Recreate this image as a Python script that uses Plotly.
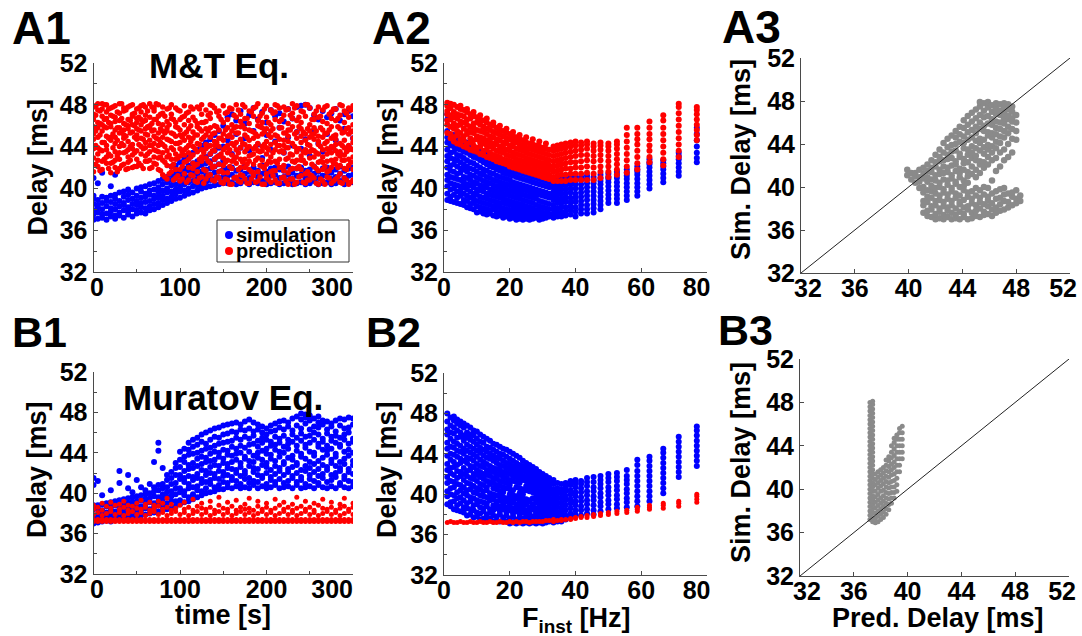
import plotly.graph_objects as go

# Delays are stored in tenths of a millisecond; time in s, frequency in Hz.

# ---- A1: M&T equation, delay vs time --------------------------------------
A1_SIM = [
    (0, [370, 375, 379, 385, 390, 393, 410]), (5, [371, 377, 382, 384, 389, 405]),
    (10, [372, 375, 380, 386, 392, 415]), (15, [370, 376, 383, 388, 391]),
    (20, [373, 378, 381, 387, 393, 402]), (25, [371, 374, 380, 385, 390, 394, 413]),
    (30, [374, 377, 383, 388, 396]), (35, [372, 379, 384, 386, 392, 397]),
    (40, [375, 378, 382, 389, 394, 399]), (45, [373, 380, 385, 390, 396]),
    (50, [376, 379, 384, 388, 393, 400]), (55, [377, 382, 386, 391, 397, 401]),
    (60, [376, 381, 387, 392, 395, 402]), (65, [379, 383, 388, 394, 398, 404]),
    (70, [380, 385, 390, 393, 399, 405]), (75, [382, 386, 391, 396, 401, 407]),
    (80, [384, 389, 393, 398, 404, 409]), (85, [386, 390, 396, 400, 406, 411]),
    (90, [388, 392, 397, 403, 408, 413, 421]), (95, [390, 395, 399, 404, 410, 415, 422]),
    (100, [391, 397, 401, 406, 412, 417, 425]), (105, [393, 398, 404, 409, 414, 419, 428]),
    (110, [395, 400, 406, 411, 417, 422, 431]), (115, [396, 402, 407, 413, 418, 424, 434]),
    (120, [398, 403, 409, 414, 420, 426, 437]), (125, [400, 405, 410, 416, 422, 428, 441]),
    (130, [401, 406, 412, 418, 424, 430, 444]), (135, [402, 408, 413, 419, 426, 433, 447]),
    (140, [403, 409, 415, 421, 428, 436, 451]), (145, [404, 410, 416, 423, 431, 439, 455]),
    (150, [405, 411, 418, 427, 440, 460]), (155, [405, 412, 419, 446, 468]),
    (160, [406, 413, 420, 433, 471]), (165, [404, 410, 417, 452, 465]),
    (170, [405, 411, 418, 439, 474]), (175, [407, 414, 421, 448, 462]),
    (180, [404, 410, 416, 436, 470]), (185, [406, 413, 420, 455, 477]),
    (190, [405, 411, 417, 442, 466]), (195, [407, 414, 422, 429, 473]),
    (200, [404, 409, 416, 451, 463]), (205, [405, 412, 419, 437, 475]),
    (210, [406, 413, 420, 445, 469]), (215, [404, 410, 418, 458, 472]),
    (220, [405, 411, 417, 434, 464]), (225, [407, 413, 421, 449, 476]),
    (230, [404, 409, 415, 441, 467]), (235, [405, 412, 419, 454, 478]),
    (240, [406, 413, 420, 438, 479]), (245, [404, 410, 417, 447, 480]),
    (250, [405, 411, 418, 431, 477]), (255, [407, 414, 421, 456, 470]),
    (260, [404, 410, 416, 443, 466]), (265, [405, 412, 419, 435, 474]),
    (270, [406, 413, 420, 452, 468]), (275, [404, 409, 415, 439, 472]),
    (280, [405, 411, 418, 446, 476]), (285, [407, 414, 421, 433, 465]),
    (290, [404, 410, 417, 457, 471]), (295, [405, 412, 419, 440, 474]),
    (300, [406, 413, 420, 448, 469]),
]
A1_PRED = [
    (0, [416, 429, 438, 447, 452, 466, 471, 478, 459]), (2.5, [423, 441, 455, 470, 479]),
    (5, [421, 433, 439, 449, 458, 463, 475, 481, 427]), (7.5, [417, 437, 451, 462, 474]),
    (10, [418, 426, 436, 444, 455, 461, 469, 476, 481]), (12.5, [428, 444, 459, 466, 480]),
    (15, [424, 430, 437, 441, 450, 467, 473, 480, 458]), (17.5, [419, 433, 448, 463, 476]),
    (20, [415, 431, 446, 449, 459, 462, 470, 477, 424]), (22.5, [425, 439, 452, 469, 478]),
    (25, [420, 427, 435, 443, 456, 464, 468, 479, 449]), (27.5, [416, 431, 446, 458, 473]),
    (30, [419, 428, 440, 453, 458, 465, 472, 481, 434]), (32.5, [422, 443, 454, 467, 481]),
    (35, [423, 434, 441, 448, 451, 462, 474, 477, 456]), (37.5, [418, 435, 450, 461, 475]),
    (40, [425, 430, 437, 445, 457, 460, 466, 478, 419]), (42.5, [427, 440, 453, 465, 479]),
    (45, [420, 432, 438, 442, 454, 469, 471, 480, 461]), (47.5, [421, 434, 449, 460, 472]),
    (50, [428, 436, 447, 451, 457, 463, 467, 476, 421]), (52.5, [424, 442, 456, 468, 477]),
    (55, [422, 433, 440, 448, 455, 461, 473, 479, 466]), (57.5, [419, 438, 447, 464, 480]),
    (60, [426, 431, 439, 444, 452, 465, 470, 478, 457]), (62.5, [426, 433, 451, 459, 474]),
    (65, [419, 427, 435, 446, 458, 460, 468, 481, 441]), (67.5, [420, 441, 455, 462, 478]),
    (70, [424, 437, 443, 450, 456, 466, 474, 477, 430]), (72.5, [423, 436, 448, 466, 481]),
    (75, [418, 429, 435, 441, 453, 462, 469, 480, 447]), (77.5, [417, 430, 444, 457, 471]),
    (80, [413, 427, 434, 442, 449, 461, 472, 478, 455]), (82.5, [411, 425, 440, 453, 469]),
    (85, [409, 422, 436, 447, 455, 458, 464, 476, 430]), (87.5, [414, 432, 446, 461, 477]),
    (90, [416, 421, 428, 439, 445, 453, 467, 471, 480]), (92.5, [408, 423, 437, 452, 466]),
    (95, [410, 428, 433, 443, 450, 459, 463, 477, 418]), (97.5, [412, 429, 443, 458, 475]),
    (100, [407, 418, 431, 438, 444, 456, 466, 474, 451]), (102.5, [409, 421, 435, 449, 468]),
    (105, [414, 425, 437, 446, 452, 461, 469, 479, 432]), (107.5, [406, 426, 439, 454, 472]),
    (110, [408, 420, 428, 434, 441, 457, 465, 473, 449]), (112.5, [413, 430, 445, 460, 478]),
    (115, [412, 419, 432, 440, 448, 454, 468, 476, 424]), (117.5, [407, 422, 438, 451, 465]),
    (120, [406, 423, 435, 443, 451, 459, 462, 478, 416]), (122.5, [410, 428, 442, 457, 476]),
    (125, [411, 426, 430, 437, 447, 455, 471, 480, 463]), (127.5, [405, 418, 434, 449, 463]),
    (130, [409, 417, 429, 438, 442, 451, 464, 475, 457]), (132.5, [412, 426, 440, 455, 470]),
    (135, [413, 424, 433, 449, 458, 467, 472, 480, 441]), (137.5, [408, 420, 436, 452, 479]),
    (140, [407, 421, 436, 441, 445, 453, 460, 477, 428]), (142.5, [411, 430, 444, 459, 473]),
    (145, [410, 416, 431, 440, 448, 456, 469, 474, 423]), (147.5, [406, 417, 433, 448, 466]),
    (150, [405, 422, 429, 437, 446, 452, 463, 479, 415]), (152.5, [409, 425, 439, 456, 472]),
    (155, [408, 415, 427, 434, 441, 458, 466, 473, 450]), (157.5, [404, 421, 437, 451, 477]),
    (160, [404, 419, 432, 443, 449, 455, 461, 476, 426]), (162.5, [410, 428, 441, 458, 470]),
    (165, [411, 424, 430, 437, 444, 453, 468, 480, 459]), (167.5, [407, 418, 434, 453, 475]),
    (170, [406, 413, 428, 439, 447, 459, 464, 471, 420]), (172.5, [412, 425, 443, 460, 480]),
    (175, [409, 420, 435, 442, 451, 457, 467, 478, 428]), (177.5, [405, 423, 438, 449, 467]),
    (180, [405, 418, 426, 431, 446, 456, 462, 474, 440]), (182.5, [409, 416, 432, 455, 473]),
    (185, [412, 423, 433, 438, 448, 454, 469, 477, 415]), (187.5, [406, 427, 440, 452, 478]),
    (190, [407, 416, 429, 443, 450, 460, 465, 481, 436]), (192.5, [411, 422, 435, 459, 469]),
    (195, [404, 421, 427, 436, 440, 452, 463, 472, 458]), (197.5, [404, 419, 442, 454, 476]),
    (200, [410, 414, 433, 439, 445, 457, 468, 479, 423]), (202.5, [408, 426, 437, 451, 463]),
    (205, [406, 425, 430, 442, 449, 455, 461, 475, 416]), (207.5, [412, 417, 434, 457, 472]),
    (210, [408, 417, 437, 444, 451, 466, 473, 480, 426]), (212.5, [405, 424, 441, 450, 479]),
    (215, [405, 420, 428, 435, 447, 458, 464, 477, 441]), (217.5, [410, 420, 436, 458, 466]),
    (220, [411, 422, 434, 441, 446, 453, 470, 478, 417]), (222.5, [407, 428, 439, 453, 475]),
    (225, [404, 415, 429, 439, 450, 456, 462, 476, 445]), (227.5, [409, 418, 433, 456, 470]),
    (230, [409, 426, 432, 443, 459, 467, 472, 481, 419]), (232.5, [404, 425, 440, 452, 477]),
    (235, [406, 419, 435, 438, 448, 454, 465, 479, 427]), (237.5, [411, 421, 438, 459, 468]),
    (240, [412, 418, 427, 431, 444, 457, 463, 474, 450]), (242.5, [406, 427, 435, 454, 473]),
    (245, [405, 424, 434, 437, 446, 452, 469, 480, 414]), (247.5, [408, 416, 442, 457, 480]),
    (250, [408, 413, 429, 441, 449, 455, 461, 477, 435]), (252.5, [412, 423, 437, 451, 466]),
    (255, [410, 421, 430, 436, 447, 458, 466, 471, 452]), (257.5, [405, 419, 434, 455, 474]),
    (260, [404, 417, 433, 442, 445, 450, 468, 478, 425]), (262.5, [409, 426, 440, 458, 469]),
    (265, [407, 425, 430, 437, 449, 456, 464, 475, 418]), (267.5, [404, 421, 443, 452, 478]),
    (270, [411, 416, 426, 438, 445, 453, 462, 479, 433]), (272.5, [410, 417, 436, 456, 471]),
    (275, [405, 420, 434, 440, 448, 459, 467, 473, 427]), (277.5, [407, 424, 439, 450, 476]),
    (280, [409, 423, 428, 436, 447, 451, 465, 476, 442]), (282.5, [411, 420, 433, 459, 467]),
    (285, [406, 414, 431, 435, 443, 457, 470, 480, 422]), (287.5, [405, 427, 441, 453, 479]),
    (290, [410, 419, 432, 439, 446, 454, 463, 474, 427]), (292.5, [408, 418, 435, 457, 472]),
    (295, [404, 422, 428, 437, 441, 452, 468, 477, 458]), (297.5, [406, 425, 438, 454, 475]),
    (300, [408, 418, 430, 444, 448, 455, 461, 479, 437]),
]

# ---- A2: M&T equation, delay vs instantaneous frequency -------------------
A2_SIM = [
    (1, [389, 395, 402, 408, 413, 420, 426, 431, 437, 444, 449, 455, 466, 471]),
    (2, [388, 392, 399, 405, 411, 417, 422, 429, 434, 441, 446, 451]),
    (3, [387, 394, 400, 404, 410, 416, 423, 428, 435, 440, 446, 451]),
    (4, [386, 391, 397, 403, 409, 414, 421, 427, 432, 438, 443, 448]),
    (5, [385, 393, 398, 402, 408, 415, 419, 425, 431, 437, 442, 447]),
    (6, [384, 389, 395, 401, 406, 411, 418, 423, 429, 435, 440, 445]),
    (7, [382, 388, 393, 399, 404, 410, 416, 421, 427, 434, 439, 444]),
    (8, [381, 385, 391, 397, 403, 408, 413, 419, 425, 432, 437, 442]),
    (9, [380, 386, 390, 395, 401, 406, 412, 418, 424, 430, 435, 440]),
    (10, [377, 383, 388, 394, 399, 405, 410, 416, 422, 429, 434, 438]),
    (11, [378, 382, 387, 392, 398, 403, 409, 414, 420, 427, 432, 437]),
    (12, [376, 381, 386, 391, 397, 402, 407, 413, 418, 425, 430, 435]),
    (13, [375, 380, 385, 390, 395, 401, 406, 411, 417, 423, 428, 433]),
    (14, [376, 379, 384, 389, 394, 399, 405, 410, 415, 421, 426, 431]),
    (15, [374, 380, 383, 388, 393, 398, 403, 408, 414, 420, 425, 430]),
    (16, [373, 378, 383, 387, 392, 397, 402, 407, 412, 418, 423, 428]),
    (17, [374, 377, 382, 386, 391, 396, 401, 406, 411, 417, 422, 427]),
    (18, [372, 376, 381, 386, 390, 395, 400, 405, 410, 415, 420, 425]),
    (19, [373, 375, 380, 385, 389, 394, 399, 404, 409, 414, 419, 424]),
    (20, [371, 376, 379, 384, 388, 393, 398, 403, 408, 413, 418, 423]),
    (21, [372, 374, 378, 383, 387, 392, 397, 402, 406, 412, 417, 422]),
    (22, [370, 375, 377, 382, 386, 391, 396, 401, 405, 411, 416, 421]),
    (23, [371, 373, 378, 381, 385, 390, 395, 400, 404, 410, 415, 420]),
    (24, [370, 374, 376, 380, 384, 389, 394, 399, 403, 409, 414, 419]),
    (25, [371, 372, 377, 379, 383, 388, 393, 398, 402, 408, 413, 418]),
    (26, [370, 375, 378, 382, 387, 392, 397, 401, 407, 412, 417]),
    (27, [371, 373, 376, 381, 386, 391, 396, 400, 406, 411, 416]),
    (28, [372, 374, 379, 384, 390, 395, 399, 405, 410, 415]),
    (29, [370, 375, 378, 383, 388, 394, 398, 404, 409, 414]),
    (30, [371, 373, 377, 382, 387, 393, 397, 403, 408, 413]),
    (31, [372, 376, 381, 386, 392, 396, 402, 407, 412]),
    (32, [373, 375, 380, 385, 391, 395, 401, 406, 411]),
    (33.3, [372, 376, 380, 384, 389, 393, 397, 401, 405, 409]),
    (34.5, [373, 377, 381, 386, 390, 394, 398, 402, 406, 410]),
    (35.7, [373, 377, 382, 386, 390, 395, 399, 403, 406, 410]),
    (37.0, [374, 378, 382, 387, 391, 395, 399, 403, 407, 410]),
    (38.5, [375, 379, 383, 387, 391, 396, 400, 404, 407, 411]),
    (40.0, [373, 378, 382, 387, 391, 395, 400, 404, 408, 411]),
    (41.7, [376, 380, 384, 388, 392, 396, 400, 404, 408, 411]),
    (43.5, [376, 380, 384, 389, 393, 397, 401, 405, 409, 412]),
    (45.5, [377, 381, 385, 389, 393, 397, 401, 405, 408, 411]),
    (47.6, [380, 384, 388, 392, 396, 400, 404, 407, 410, 413]),
    (50.0, [386, 390, 394, 398, 402, 406, 409, 411, 414]),
    (52.6, [386, 390, 394, 398, 402, 406, 410, 413, 416]),
    (55.6, [389, 393, 397, 401, 405, 409, 412, 415, 418]),
    (58.8, [393, 397, 401, 405, 409, 413, 416, 418, 421]),
    (62.5, [400, 404, 408, 412, 416, 420, 423, 425, 428]),
    (66.7, [406, 410, 414, 418, 421, 424, 427]),
    (71.4, [412, 416, 420, 424, 428, 431, 434]),
    (76.9, [425, 429, 434, 440, 446, 452, 458]),
]
A2_PRED = [
    (1, [453, 461, 465, 471, 474, 479, 482]), (2, [448, 452, 459, 466, 470, 477, 481]),
    (3, [445, 449, 457, 462, 468, 473, 480]), (4, [443, 451, 455, 460, 467, 471, 478]),
    (5, [442, 447, 453, 461, 464, 470, 476, 479]), (6, [440, 446, 450, 457, 463, 469, 475]),
    (7, [439, 443, 452, 455, 461, 466, 473, 476]), (8, [437, 444, 448, 454, 459, 467, 471]),
    (9, [436, 441, 446, 453, 458, 462, 469, 473]), (10, [435, 439, 447, 450, 456, 463, 468]),
    (11, [433, 440, 444, 449, 455, 461, 466, 470]), (12, [432, 436, 443, 448, 454, 459, 465]),
    (13, [430, 437, 441, 446, 452, 457, 463, 467]), (14, [429, 434, 440, 445, 450, 456, 461]),
    (15, [428, 432, 438, 443, 449, 454, 460, 463]), (16, [426, 431, 436, 442, 447, 453, 458]),
    (17, [425, 430, 435, 440, 446, 451, 456, 460]), (18, [424, 428, 434, 439, 444, 450, 455]),
    (19, [423, 427, 432, 437, 443, 448, 453, 457]), (20, [421, 426, 431, 436, 441, 447, 452]),
    (21, [420, 425, 430, 434, 440, 445, 450, 454]), (22, [419, 423, 428, 433, 438, 444, 449]),
    (23, [418, 422, 427, 432, 437, 442, 447, 451]), (24, [417, 421, 426, 431, 436, 441, 446]),
    (25, [416, 420, 425, 429, 434, 439, 444, 449]), (26, [415, 419, 424, 428, 433, 438, 443]),
    (27, [414, 418, 423, 427, 432, 437, 442, 447]), (28, [413, 417, 422, 426, 431, 436, 441]),
    (29, [412, 416, 421, 425, 430, 435, 440, 445]), (30, [411, 415, 420, 424, 429, 434, 439]),
    (31, [410, 414, 419, 423, 428, 433, 438, 443]), (32, [409, 413, 418, 422, 427, 432, 437]),
    (33.3, [407, 411, 416, 421, 426, 431, 436, 440]),
    (34.5, [407, 412, 417, 422, 427, 432, 437, 441]),
    (35.7, [407, 413, 418, 423, 428, 433, 438, 442]),
    (37.0, [407, 413, 419, 424, 429, 434, 439, 443]),
    (38.5, [408, 414, 419, 425, 430, 435, 440, 444]),
    (40.0, [408, 414, 420, 425, 431, 436, 441, 445]),
    (41.7, [408, 414, 420, 426, 432, 437, 441, 444]),
    (43.5, [408, 415, 421, 427, 432, 438, 442, 445]),
    (45.5, [408, 414, 420, 426, 431, 436, 440, 443]),
    (47.6, [410, 416, 421, 427, 432, 437, 441, 444]),
    (50.0, [411, 416, 421, 426, 431, 436, 440, 443]),
    (52.6, [413, 418, 423, 428, 433, 438, 442, 445]),
    (55.6, [415, 421, 427, 433, 439, 445, 451, 458]),
    (58.8, [418, 424, 430, 436, 442, 447, 452, 458]),
    (62.5, [425, 430, 436, 441, 447, 452, 458, 464]),
    (66.7, [422, 428, 434, 440, 446, 452, 458, 465, 470]),
    (71.4, [430, 436, 442, 448, 454, 460, 466, 472, 478, 481]),
    (76.9, [446, 451, 456, 461, 466, 471, 475, 478]),
]

# ---- A3: simulated vs predicted delay (M&T); x = predicted, y = simulated --
A3_CLOUD = [
    (399, [411, 416]), (402, [407, 413]), (405, [404, 410, 413]), (408, [399, 405, 409, 416]),
    (411, [376, 383, 387, 395, 400, 408, 412, 418]),
    (414, [373, 378, 386, 391, 397, 405, 409, 415, 421]),
    (417, [372, 379, 382, 390, 396, 401, 407, 414, 418, 425]),
    (420, [370, 375, 383, 387, 394, 399, 406, 411, 419, 423, 430]),
    (423, [371, 377, 380, 388, 392, 400, 404, 412, 416, 424, 428, 435]),
    (426, [370, 374, 382, 386, 395, 398, 407, 413, 419, 425, 432, 441]),
    (429, [372, 378, 381, 389, 393, 402, 406, 414, 418, 426, 430, 437, 445]),
    (432, [370, 376, 383, 387, 396, 399, 408, 411, 420, 427, 433, 439, 448]),
    (435, [371, 374, 380, 390, 394, 403, 405, 415, 421, 424, 434, 440, 446, 452]),
    (438, [370, 377, 384, 386, 392, 400, 409, 413, 417, 428, 431, 442, 449, 456]),
    (441, [372, 375, 381, 388, 397, 401, 406, 416, 422, 426, 436, 441, 447, 455, 462]),
    (444, [370, 379, 382, 391, 395, 404, 410, 414, 423, 430, 435, 444, 451, 458, 466]),
    (447, [371, 376, 385, 389, 396, 412, 419, 427, 432, 438, 446, 453, 461, 469]),
    (450, [373, 378, 383, 392, 399, 409, 416, 425, 429, 436, 443, 450, 456, 464, 472]),
    (453, [372, 380, 386, 390, 397, 413, 421, 424, 434, 441, 445, 454, 460, 467, 475, 479]),
    (456, [374, 377, 384, 393, 400, 418, 423, 431, 437, 444, 452, 457, 465, 471, 478]),
    (459, [375, 382, 388, 391, 399, 421, 428, 435, 439, 448, 451, 459, 466, 474, 479]),
    (462, [373, 379, 385, 394, 406, 425, 432, 438, 446, 450, 458, 463, 470, 476]),
    (465, [376, 381, 389, 396, 415, 427, 436, 442, 449, 455, 461, 468, 473, 478]),
    (468, [378, 384, 390, 398, 419, 432, 441, 447, 454, 460, 467, 471, 477]),
    (471, [379, 387, 393, 399, 425, 435, 446, 452, 459, 464, 469, 474, 478]),
    (474, [381, 386, 394, 428, 440, 450, 456, 463, 466, 472, 477]),
    (477, [383, 391, 395, 432, 445, 454, 461, 464, 470, 475]),
    (480, [385, 389, 397, 444, 452, 460, 467]),
    (483, [387, 392]),
]

# ---- B1: Muratov equation, delay vs time -----------------------------------
B1_SIM = [
    (0, [370, 375, 378, 384, 388, 408, 415]), (5, [371, 374, 379, 385, 388, 412]),
    (10, [372, 377, 380, 383, 389, 398]), (15, [373, 376, 381, 387, 390]),
    (20, [372, 378, 383, 386, 391, 403]), (25, [374, 377, 382, 388, 392]),
    (30, [375, 379, 385, 387, 393, 410, 422]), (35, [374, 380, 383, 389, 394]),
    (40, [376, 381, 386, 390, 395, 405, 418]), (45, [377, 380, 385, 391, 396, 401]),
    (50, [376, 382, 388, 392, 397, 413]), (55, [378, 383, 387, 393, 398, 406]),
    (60, [379, 385, 389, 394, 399, 403]), (65, [380, 384, 391, 395, 400, 409]),
    (70, [381, 386, 390, 397, 402, 406, 431]), (75, [382, 388, 392, 396, 403, 408, 442, 450]),
    (80, [383, 387, 394, 399, 405, 409, 425]), (85, [384, 390, 396, 401, 406, 413, 418]),
    (90, [385, 392, 397, 402, 409, 415, 421]), (95, [387, 392, 399, 405, 410, 418, 425, 430]),
    (100, [389, 393, 401, 405, 414, 418, 426, 433, 441]),
    (105, [391, 398, 402, 411, 415, 422, 431, 436, 444]),
    (110, [392, 396, 405, 409, 417, 424, 428, 438, 443, 450]),
    (115, [394, 399, 406, 413, 416, 425, 430, 439, 446, 453]),
    (120, [396, 403, 407, 415, 419, 427, 434, 440, 448, 455]),
    (125, [398, 402, 410, 414, 423, 429, 436, 442, 451, 458]),
    (130, [400, 405, 411, 418, 422, 431, 435, 444, 449, 460]),
    (135, [401, 409, 413, 420, 426, 432, 439, 445, 453, 462]),
    (140, [402, 406, 415, 419, 428, 433, 441, 447, 456, 464]),
    (145, [404, 408, 414, 422, 427, 436, 440, 449, 455, 465]),
    (150, [404, 411, 417, 421, 430, 434, 443, 450, 458, 467]),
    (155, [406, 410, 418, 425, 429, 438, 442, 451, 459, 468]),
    (160, [405, 413, 416, 424, 431, 437, 446, 452, 461, 469]),
    (165, [407, 412, 420, 423, 433, 439, 444, 455, 460, 470]),
    (170, [405, 409, 417, 426, 430, 440, 447, 453, 463, 468]),
    (175, [406, 414, 419, 422, 434, 436, 445, 456, 462, 471]),
    (180, [405, 410, 415, 427, 432, 441, 448, 454, 464, 473]),
    (185, [408, 412, 421, 425, 431, 437, 449, 457, 461, 470]),
    (190, [405, 411, 418, 424, 435, 440, 446, 452, 463, 468]),
    (195, [407, 415, 417, 428, 433, 442, 450, 455, 460, 466]),
    (200, [405, 409, 420, 426, 430, 439, 444, 453, 458, 464]),
    (205, [406, 413, 416, 423, 434, 438, 447, 451, 461, 467]),
    (210, [408, 411, 419, 427, 432, 443, 448, 456, 462, 469]),
    (215, [405, 414, 422, 425, 436, 441, 450, 454, 465, 471]),
    (220, [406, 410, 418, 429, 431, 440, 446, 457, 463, 472]),
    (225, [407, 412, 421, 424, 435, 444, 449, 453, 466, 470]),
    (230, [405, 415, 417, 426, 433, 437, 451, 458, 462, 474]),
    (235, [408, 411, 420, 428, 430, 442, 447, 455, 467, 476]),
    (240, [405, 413, 416, 423, 436, 439, 452, 459, 464, 473, 479]),
    (245, [406, 409, 422, 427, 434, 445, 448, 456, 469, 475, 478]),
    (250, [407, 414, 418, 425, 431, 441, 450, 457, 463, 472, 477]),
    (255, [405, 412, 421, 429, 437, 440, 453, 460, 466, 474]),
    (260, [408, 410, 417, 424, 432, 446, 449, 458, 465, 470, 476]),
    (265, [406, 415, 419, 428, 435, 443, 451, 454, 468, 472]),
    (270, [405, 411, 423, 426, 438, 442, 447, 459, 463, 471]),
    (275, [407, 413, 418, 430, 433, 444, 452, 456, 466, 469]),
    (280, [405, 416, 420, 427, 436, 439, 450, 457, 461, 472]),
    (285, [408, 410, 422, 425, 431, 446, 448, 455, 467, 474]),
    (290, [406, 414, 417, 429, 434, 441, 453, 458, 464, 473]),
    (295, [405, 412, 421, 424, 437, 443, 449, 460, 465, 475]),
    (300, [407, 411, 419, 428, 432, 440, 451, 454, 468, 474]),
]
B1_PRED = [
    (0, [372, 374, 379, 384, 388]), (5, [372, 374, 381, 386]), (10, [372, 374, 378, 383, 390]),
    (15, [372, 374, 380, 387]), (20, [372, 374, 382, 385, 391]), (25, [372, 374, 379, 388]),
    (30, [372, 374, 381, 384, 389]), (35, [372, 374, 378, 386, 392]), (40, [372, 374, 380, 383, 388]),
    (45, [372, 374, 382, 387]), (50, [372, 374, 379, 385, 390]), (55, [372, 374, 381, 384, 393]),
    (60, [372, 374, 378, 386, 389]), (65, [372, 374, 380, 383, 391]), (70, [372, 374, 382, 385, 388]),
    (75, [372, 374, 379, 387, 392]), (80, [372, 374, 381, 384, 390]), (85, [372, 374, 378, 386, 395]),
    (90, [372, 374, 380, 383, 389]), (95, [372, 374, 382, 385]), (100, [372, 374, 379, 388]),
    (105, [372, 374, 381, 384, 391]), (110, [372, 374, 378, 386]), (115, [372, 374, 380, 383, 394]),
    (120, [372, 374, 382, 387]), (125, [372, 374, 379, 385, 390]), (130, [372, 374, 381, 384]),
    (135, [372, 374, 378, 386, 392]), (140, [372, 374, 380, 383]), (145, [372, 374, 382, 388, 396]),
    (150, [372, 374, 379, 385]), (155, [372, 374, 381, 384, 391]), (160, [372, 374, 378, 387]),
    (165, [372, 374, 380, 383, 393]), (170, [372, 374, 382, 386]), (175, [372, 374, 379, 384, 389]),
    (180, [372, 374, 381, 385, 395]), (185, [372, 374, 378, 383]), (190, [372, 374, 380, 387, 392]),
    (195, [372, 374, 382, 384]), (200, [372, 374, 379, 386, 390]), (205, [372, 374, 381, 383]),
    (210, [372, 374, 378, 385, 394]), (215, [372, 374, 380, 388]), (220, [372, 374, 382, 384, 391]),
    (225, [372, 374, 379, 386]), (230, [372, 374, 381, 383, 389]), (235, [372, 374, 378, 385, 396]),
    (240, [372, 374, 380, 387]), (245, [372, 374, 382, 384, 392]), (250, [372, 374, 379, 386]),
    (255, [372, 374, 381, 383, 390]), (260, [372, 374, 378, 388]), (265, [372, 374, 380, 385, 394]),
    (270, [372, 374, 382, 384]), (275, [372, 374, 379, 386, 391]), (280, [372, 374, 381, 383]),
    (285, [372, 374, 378, 385, 389]), (290, [372, 374, 380, 387, 395]), (295, [372, 374, 382, 384]),
    (300, [372, 374, 379, 386, 390]),
]

# ---- B2: Muratov equation, delay vs instantaneous frequency ---------------
B2_SIM = [
    (1, [390, 398, 403, 411, 417, 424, 430, 438, 445, 451, 459, 464, 472, 480]),
    (2, [388, 392, 400, 406, 413, 421, 426, 434, 440, 447, 455, 461, 468, 476]),
    (3, [385, 393, 399, 407, 412, 419, 427, 432, 439, 446, 452, 460, 466, 473, 477]),
    (4, [384, 389, 396, 402, 410, 416, 423, 429, 437, 443, 450, 456, 463, 470, 474]),
    (5, [383, 391, 397, 404, 409, 418, 422, 431, 435, 442, 448, 457, 461, 468, 472]),
    (6, [382, 387, 394, 401, 407, 414, 420, 426, 433, 440, 445, 453, 458, 466, 470]),
    (7, [379, 386, 391, 399, 404, 411, 418, 423, 431, 436, 443, 449, 456, 461, 468]),
    (8, [380, 385, 393, 397, 405, 410, 416, 424, 428, 435, 441, 447, 454, 459, 466]),
    (9, [377, 384, 389, 396, 402, 408, 415, 420, 427, 433, 439, 445, 452, 458, 463]),
    (10, [378, 382, 390, 394, 401, 406, 413, 419, 424, 430, 437, 443, 449, 455, 462]),
    (11, [375, 381, 387, 393, 399, 405, 410, 417, 422, 428, 434, 441, 446, 452, 459]),
    (12, [376, 383, 386, 392, 398, 403, 409, 415, 420, 427, 432, 438, 444, 451, 457]),
    (13, [375, 380, 388, 391, 397, 404, 407, 413, 419, 424, 430, 436, 442, 447, 455]),
    (14, [376, 382, 385, 394, 396, 401, 410, 412, 418, 423, 428, 435, 440, 446, 453]),
    (15, [373, 379, 384, 389, 395, 400, 406, 411, 416, 422, 426, 433, 438, 444, 450]),
    (16, [374, 378, 386, 390, 393, 399, 405, 409, 415, 420, 425, 431, 436, 442, 449]),
    (17, [373, 380, 383, 388, 394, 398, 403, 408, 413, 419, 424, 429, 435, 440, 447]),
    (18, [374, 377, 385, 390, 392, 397, 402, 407, 412, 417, 422, 428, 433, 439, 445]),
    (19, [373, 379, 382, 387, 393, 396, 406, 411, 416, 421, 426, 431, 437, 444]),
    (20, [371, 376, 384, 389, 391, 395, 400, 405, 409, 414, 420, 425, 430, 435, 442]),
    (21, [372, 378, 381, 386, 392, 394, 399, 404, 413, 418, 423, 428, 433, 440]),
    (22, [371, 375, 383, 387, 390, 396, 398, 407, 412, 417, 421, 426, 431, 438]),
    (23, [372, 377, 380, 385, 389, 393, 397, 401, 406, 411, 415, 420, 425, 429, 436]),
    (24, [371, 376, 382, 386, 388, 392, 396, 400, 405, 414, 418, 423, 428, 433]),
    (25, [372, 375, 379, 384, 390, 391, 395, 404, 408, 413, 417, 422, 426, 431]),
    (26, [371, 377, 381, 383, 387, 393, 394, 403, 407, 411, 416, 420, 425, 429]),
    (27, [372, 374, 378, 385, 389, 390, 396, 402, 406, 410, 414, 419, 423, 427]),
    (28, [371, 376, 380, 382, 386, 392, 395, 400, 405, 409, 413, 417, 421, 425]),
    (29, [372, 375, 379, 384, 388, 391, 394, 398, 403, 408, 412, 416, 420, 422]),
    (30, [371, 374, 378, 381, 385, 389, 393, 396, 400, 405, 407, 411, 414, 418, 420]),
    (31, [372, 376, 380, 383, 387, 390, 394, 397, 401, 404, 406, 410, 413, 416, 418]),
    (32, [373, 375, 379, 382, 386, 389, 392, 396, 399, 403, 405, 408, 412, 414, 416]),
    (33.3, [372, 376, 381, 385, 390, 395, 400, 405, 410, 414]),
    (34.5, [373, 378, 382, 387, 392, 397, 402, 406, 411]),
    (35.7, [373, 377, 382, 386, 391, 396, 401, 405, 410]),
    (37.0, [375, 379, 384, 389, 394, 398, 403, 407, 411]),
    (38.5, [377, 381, 386, 391, 395, 400, 404, 409, 413]),
    (40.0, [380, 384, 389, 393, 398, 402, 407, 411, 414]),
    (41.7, [379, 384, 388, 393, 397, 402, 406, 410, 413]),
    (43.5, [381, 385, 390, 394, 399, 403, 408, 412, 416]),
    (45.5, [380, 384, 389, 394, 398, 403, 407, 412, 417]),
    (47.6, [383, 388, 392, 397, 401, 406, 410, 414, 418]),
    (50.0, [385, 390, 394, 399, 403, 407, 412, 416, 420]),
    (52.6, [386, 390, 395, 399, 404, 408, 413, 417, 421]),
    (55.6, [387, 392, 396, 401, 405, 410, 414, 418, 424]),
    (58.8, [388, 393, 398, 403, 408, 413, 418, 423, 429, 434]),
    (62.5, [393, 398, 403, 408, 413, 418, 423, 428, 433, 437]),
    (66.7, [401, 406, 411, 416, 421, 426, 431, 436, 441, 445]),
    (71.4, [417, 422, 427, 432, 437, 442, 447, 452, 457]),
    (76.9, [428, 433, 438, 443, 448, 453, 458, 463, 467]),
]
B2_PRED = [
    (1, [372]), (2, [373]), (3, [372]), (4, [372]), (5, [373]), (6, [372]), (7, [372]),
    (8, [373]), (9, [372]), (10, [372]), (11, [373]), (12, [372]), (13, [372]), (14, [373]),
    (15, [372]), (16, [372]), (17, [373]), (18, [372]), (19, [372]), (20, [373]), (21, [372]),
    (22, [373]), (23, [372]), (24, [373]), (25, [373]), (26, [372]), (27, [373]), (28, [373]),
    (29, [373]), (30, [373]), (31, [374]), (32, [374]),
    (33.3, [373, 375]), (34.5, [374]), (35.7, [374, 375]), (37.0, [375]), (38.5, [375, 376]),
    (40.0, [376, 377]), (41.7, [377, 378]), (43.5, [377, 379]), (45.5, [378, 380]),
    (47.6, [379, 381]), (50.0, [380, 382]), (52.6, [381, 383]), (55.6, [382, 384]),
    (58.8, [383, 385, 387]), (62.5, [385, 387, 389]), (66.7, [386, 389, 391]),
    (71.4, [388, 391, 393]), (76.9, [392, 395, 398, 400]),
]

# ---- B3: simulated vs predicted delay (Muratov) ----------------------------
B3_CLOUD = [
    (372, [372, 376, 380, 384, 388, 392, 396, 400, 404, 408, 412, 416, 420, 424,
           428, 432, 436, 440, 444, 448, 452, 456, 460, 464, 468, 472, 476, 480]),
    (374, [370, 374, 378, 382, 386, 390, 394, 398, 402, 406, 410, 414, 418, 422,
           426, 430, 434, 438, 442, 446, 450, 454, 458, 462, 466, 470, 474, 478, 481]),
    (376, [369, 373, 378, 383, 388, 393, 398, 404, 409, 414]),
    (378, [370, 375, 380, 385, 390, 395, 401, 406, 411, 416]),
    (380, [372, 377, 382, 387, 392, 398, 403, 408, 413, 418]),
    (382, [374, 379, 384, 389, 394, 399, 405, 410, 415, 420]),
    (384, [377, 382, 387, 392, 397, 402, 407, 412, 417, 422, 427]),
    (386, [381, 386, 391, 396, 401, 406, 411, 416, 421, 426, 430]),
    (388, [387, 392, 397, 402, 407, 413, 418, 423, 429, 434, 440]),
    (390, [392, 397, 402, 408, 414, 420, 425, 431, 437, 443, 447]),
    (392, [398, 404, 410, 416, 422, 428, 434, 440, 446, 450]),
    (394, [416, 422, 428, 434, 440, 446, 452, 456]),
    (396, [428, 434, 440, 446, 452, 458]),
]

BLUE = "#0000ff"
RED = "#ff0000"
GRAY = "#8a8a8a"
AXIS = "#4a4a4a"
FONT = "Liberation Sans, Arial, sans-serif"
FIG_SP = "\u2007"    # digit-wide space, nudges end labels inside the axis span
PUNC_SP = "\u2008"

W, H = 1082, 636


def fx(p):
    return p / W


def fy(p):
    return 1 - p / H


def expand(cols, xscale=1.0):
    xs, ys = [], []
    for x, vals in cols:
        for v in vals:
            xs.append(x * xscale)
            ys.append(v / 10)
    return xs, ys


fig = go.Figure()


def add(cols, color, ax, xscale=1.0, size=6):
    xs, ys = expand(cols, xscale)
    fig.add_trace(go.Scatter(
        x=xs, y=ys, mode="markers", xaxis="x" + ax, yaxis="y" + ax,
        marker=dict(size=size, color=color, line=dict(width=0)),
        hoverinfo="skip", showlegend=False,
    ))


add(A1_SIM, BLUE, "")
add(A1_PRED, RED, "", size=5.5)
add(A2_SIM, BLUE, "2")
add(A2_PRED, RED, "2")
add(A3_CLOUD, GRAY, "3", xscale=0.1, size=6.5)
add(B1_SIM, BLUE, "4")
add(B1_PRED, RED, "4", size=5)
add(B2_SIM, BLUE, "5")
add(B2_PRED, RED, "5", size=5)
add(B3_CLOUD, GRAY, "6", xscale=0.1, size=5)

# panel boxes in pixels: (left, right, top, bottom)
BOXES = {
    "": (93.5, 353, 63, 272),
    "2": (444, 707, 63, 272),
    "3": (801, 1070, 58, 273),
    "4": (93.5, 353, 372, 574),
    "5": (444, 707, 373, 575),
    "6": (800, 1069, 359, 576),
}
TIME_TICKS = [0, 100, 200, 300]
TIME_TEXT = [PUNC_SP + "0", "100", "200", "300" + FIG_SP * 3]
FREQ_TICKS = [0, 20, 40, 60, 80]
FREQ_TEXT = ["0", "20", "40", "60", "80" + FIG_SP + PUNC_SP]
DELAY_TICKS = [32, 36, 40, 44, 48, 52]
DELAY_TEXT = [FIG_SP + "32", "36", "40", "44", "48", "52" + FIG_SP]
XSPEC = {
    "": dict(range=[0, 300], tickvals=TIME_TICKS, ticktext=TIME_TEXT, minor=50),
    "2": dict(range=[0, 80], tickvals=FREQ_TICKS, ticktext=FREQ_TEXT, minor=None),
    "3": dict(range=[32, 52], tickvals=DELAY_TICKS, ticktext=DELAY_TEXT, minor=None),
    "4": dict(range=[0, 300], tickvals=TIME_TICKS, ticktext=TIME_TEXT, minor=50),
    "5": dict(range=[0, 80], tickvals=FREQ_TICKS, ticktext=FREQ_TEXT, minor=None),
    "6": dict(range=[32, 52], tickvals=DELAY_TICKS, ticktext=DELAY_TEXT, minor=None),
}
tickfont = dict(family=FONT, size=25, color="black", weight="bold")

layout = dict(
    width=W, height=H, margin=dict(l=0, r=0, t=0, b=0, pad=0),
    paper_bgcolor="white", plot_bgcolor="white", showlegend=False,
)
for ax, (l, r, t, b) in BOXES.items():
    spec = XSPEC[ax]
    xa = dict(
        domain=[fx(l), fx(r)], range=spec["range"], anchor="y" + ax,
        tickmode="array", tickvals=spec["tickvals"], ticktext=spec["ticktext"],
        ticks="inside", ticklen=4, tickcolor=AXIS,
        showline=True, linecolor=AXIS, linewidth=1, showgrid=False, zeroline=False,
        tickfont=tickfont, fixedrange=True, automargin=False,
        ticklabeloverflow="allow", ticklabelstandoff=-7,
    )
    if spec["minor"]:
        xa["minor"] = dict(ticks="inside", ticklen=3, tickcolor=AXIS, dtick=spec["minor"],
                           tick0=0, showgrid=False)
    ya = dict(
        domain=[fy(b), fy(t)], range=[32, 52], anchor="x" + ax,
        tickvals=DELAY_TICKS, ticks="inside", ticklen=4, tickcolor=AXIS,
        showline=True, linecolor=AXIS, linewidth=1, showgrid=False, zeroline=False,
        tickfont=tickfont, fixedrange=True, automargin=False, ticklabeloverflow="allow",
    )
    if ax in ("", "2", "4", "5"):
        ya["minor"] = dict(ticks="inside", ticklen=3, tickcolor=AXIS, dtick=2, tick0=32,
                           showgrid=False)
    layout["xaxis" + ax] = xa
    layout["yaxis" + ax] = ya
fig.update_layout(**layout)

# identity lines in the scatter comparisons
for ax in ("3", "6"):
    fig.add_shape(type="line", xref="x" + ax, yref="y" + ax, x0=32, y0=32, x1=52, y1=52,
                  line=dict(color="#222222", width=1))


def text(s, x, y, size, angle=0, xanchor="center", yanchor="middle"):
    fig.add_annotation(
        text=s, x=fx(x), y=fy(y), xref="paper", yref="paper", showarrow=False,
        textangle=angle, xanchor=xanchor, yanchor=yanchor,
        font=dict(family=FONT, size=size, color="black", weight="bold"),
    )


# panel letters
for lab, x, y, s in [("A1", 10, 28, 46), ("A2", 370, 28, 46), ("A3", 720, 27, 46),
                     ("B1", 10, 332, 43), ("B2", 364, 332, 43), ("B3", 716, 330, 43)]:
    text(lab, x, y, s, xanchor="left")

# panel titles
text("M&amp;T Eq.", 219, 66, 35)
text("Muratov Eq.", 223, 397, 35)

# axis titles
for x, y in [(37.5, 167), (388, 167), (37, 470), (387, 470)]:
    text("Delay [ms]", x, y, 27, angle=-90)
text("Sim. Delay [ms]", 741, 160, 27, angle=-90)
text("Sim. Delay [ms]", 741, 463, 27, angle=-90)
text("time [s]", 223, 615, 27)
text("F<sub>inst</sub> [Hz]", 576, 620, 27)
text("Pred. Delay [ms]", 938, 618, 27)

# legend in A1
fig.add_shape(type="rect", xref="paper", yref="paper", x0=fx(217), x1=fx(349),
              y0=fy(262), y1=fy(220), line=dict(color="#333333", width=1),
              fillcolor="white", layer="above")
for color, label, yc in [(BLUE, "simulation", 235), (RED, "prediction", 251)]:
    fig.add_shape(type="circle", xref="paper", yref="paper", x0=fx(225), x1=fx(233),
                  y0=fy(yc + 4), y1=fy(yc - 4), line=dict(width=0), fillcolor=color,
                  layer="above")
    text(label, 234, yc, 20, xanchor="left")

fig.write_html("out.html")
